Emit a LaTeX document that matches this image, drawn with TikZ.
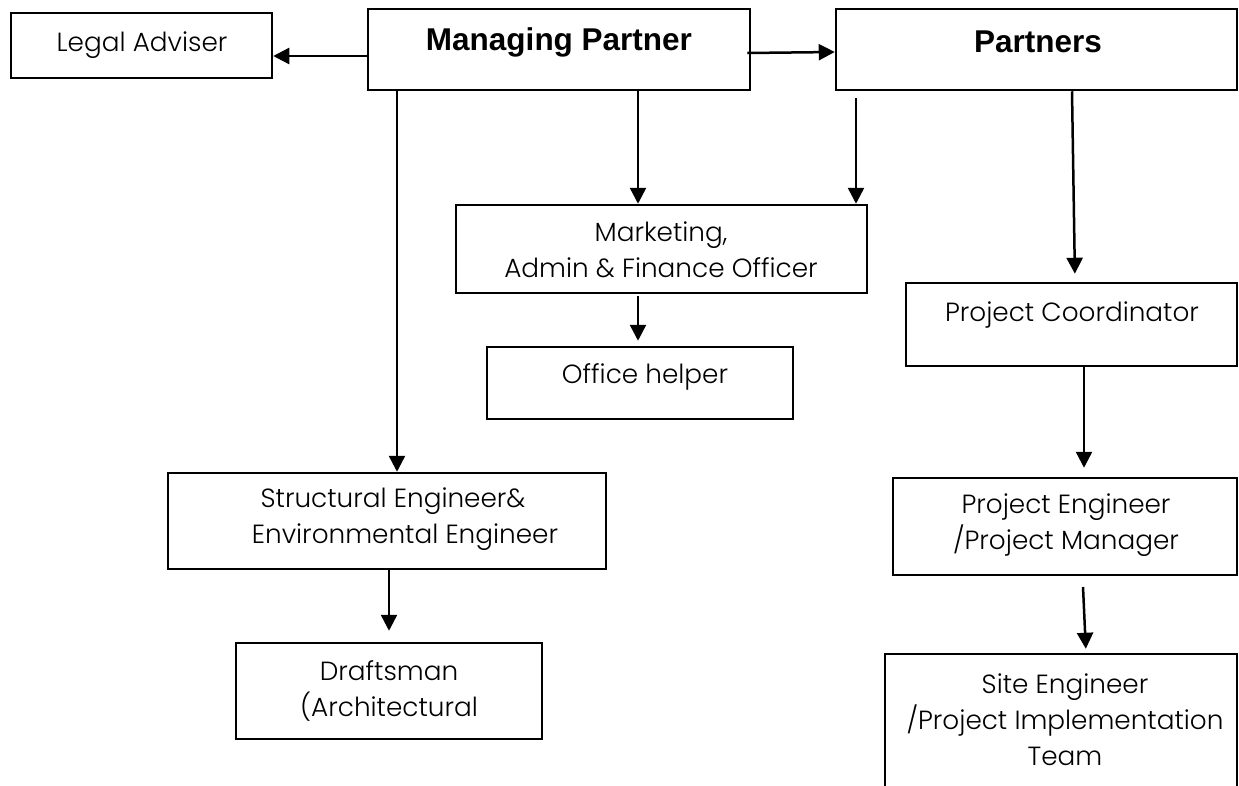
\documentclass[tikz,border=0pt]{standalone}
\usepackage{fontspec}
\setmainfont{Poppins}[UprightFont={* Light}]
\newfontfamily\boldsans{Liberation Sans}[BoldFont={* Bold}]
\usetikzlibrary{arrows.meta,positioning,calc}
\tikzset{
  box/.style={draw=black, line width=2.5pt, rectangle, inner sep=0pt},
  lbl/.style={inner sep=0pt, align=center, font=\fontsize{26.3}{36}\selectfont},
  blbl/.style={inner sep=0pt, align=center, font=\boldsans\bfseries\fontsize{31.5}{36}\selectfont},
  arr/.style={line width=2.5pt, -{Triangle[length=16pt,width=16pt]}},
}
\newcommand{\mybox}[5]{\node[box, minimum width={(#4)-(#2)}, minimum height={(#5)-(#3)}] (#1) at ({((#2)+(#4))/2},{((#3)+(#5))/2}) {};}
\begin{document}
\begin{tikzpicture}[x=1pt, y=-1pt]
\useasboundingbox (0,0) rectangle (1239,785);
% boxes
\mybox{legal}{11}{13}{272}{78}
\mybox{mp}{368}{9}{750}{90}
\mybox{partners}{836}{9}{1237}{90}
\mybox{mkt}{456}{205}{867}{293}
\mybox{office}{487}{347}{793}{419}
\mybox{coord}{906}{283}{1237}{366}
\mybox{struct}{168}{473}{606}{569}
\mybox{draft}{236}{643}{542}{739}
\mybox{pe}{893}{478}{1237}{575}
\mybox{site}{885}{654}{1237}{810}
% texts
\node[lbl] (tlegal) at (142,45) {Legal Adviser};
\node[blbl] (tmp) at (559,42) {Managing Partner};
\node[blbl] (tpartners) at (1038,42) {Partners};
\node[lbl] (tmkt) at (661,250) {Marketing,\\Admin \& Finance Officer};
\node[lbl] (toffice) at (645,377) {Office helper};
\node[lbl] (tcoord) at (1072,315) {Project Coordinator};
\node[lbl] (tstruct) at (393,519) {Structural Engineer\&\\\hspace*{24pt}Environmental Engineer};
\node[lbl] (tdraft) at (389,691) {Draftsman\\(Architectural};
\node[lbl] (tpe) at (1066,525) {Project Engineer\\/Project Manager};
\node[lbl] (tsite) at (1065,720) {Site Engineer\\/Project Implementation\\Team};
% free start points
\coordinate (pstart) at (856,98);
\coordinate (sstart) at (1083,587);
% connectors
\draw[arr] (mp.west |- 0,56) -- (legal.east |- 0,56);
\draw[arr] ([xshift=-4pt,yshift=-3.5pt]mp.east) -- ([yshift=-2.5pt]partners.west);
\draw[arr] (mp.south -| 397,0) -- (struct.north -| 397,0);
\draw[arr] (mp.south -| 638,0) -- (mkt.north -| 638,0);
\draw[arr] (pstart) -- (mkt.north -| pstart);
\draw[arr, shorten >=8pt] (partners.south -| 1072,0) -- (coord.north -| 1075,0);
\draw[arr, shorten <=2pt, shorten >=5pt] (mkt.south -| 638,0) -- (office.north -| 638,0);
\draw[arr, shorten >=11pt] (struct.south -| 389,0) -- (draft.north -| 389,0);
\draw[arr, shorten >=9pt] (coord.south -| 1084,0) -- (pe.north -| 1084,0);
\draw[arr, shorten >=4pt] (sstart) -- (site.north -| 1086,0);
\end{tikzpicture}
\end{document}
